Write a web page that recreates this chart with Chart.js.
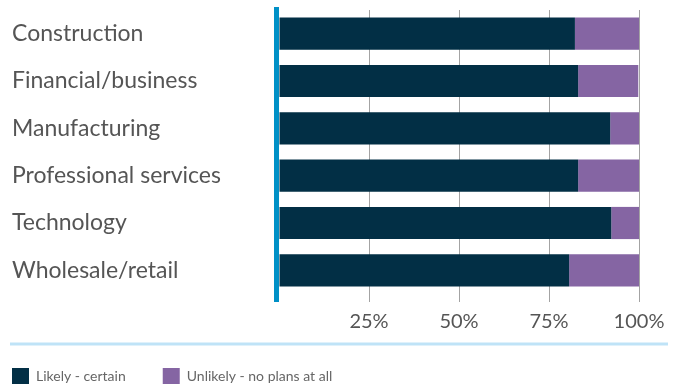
<!DOCTYPE html>
<html>
<head>
<meta charset="utf-8">
<script src="https://cdn.jsdelivr.net/npm/chart.js@4/dist/chart.umd.min.js"></script>
<style>
  html, body { margin: 0; padding: 0; background: #fff; }
  #wrap { width: 683px; height: 387px; }
</style>
</head>
<body>
<div id="wrap"><canvas id="myChart"></canvas></div>
<script>
let sectors = ["Construction", "Financial/business", "Manufacturing", "Professional services", "Technology", "Wholesale/retail"]
let likely = [82.2, 83.1, 92.0, 83.1, 92.3, 80.6]
let unlikely = [17.8, 16.7, 8.0, 16.9, 7.7, 19.4]
let xTicks = [25, 50, 75, 100]

let legendGap = 37

// thick blue axis on the left and the light blue rule above the legend
let decorations = {
    id: "decorations",
    afterLayout: (chart) => {
        // pull the legend row back to the left margin
        chart.legend.left = 12 - legendGap
    },
    beforeDatasetsDraw: (chart) => {
        let ctx = chart.ctx
        let area = chart.chartArea
        ctx.save()
        ctx.fillStyle = "#0090c6"
        ctx.fillRect(area.left - 5, area.top - 3, 5, area.bottom - area.top + 11)
        ctx.restore()
    },
    afterDraw: (chart) => {
        let ctx = chart.ctx
        ctx.save()
        ctx.strokeStyle = "#bfe3f7"
        ctx.lineWidth = 3
        ctx.beginPath()
        ctx.moveTo(10, 344)
        ctx.lineTo(668, 344)
        ctx.stroke()
        ctx.restore()
    },
}

let ctx = document.getElementById("myChart").getContext("2d")

let config = {
    type: "bar",
    data: {
        labels: sectors,
        datasets: [{
            label: "Likely - certain",
            data: likely,
            backgroundColor: "#022f45",
            barPercentage: 0.68,
            categoryPercentage: 1,
        },
        {
            label: "Unlikely - no plans at all",
            data: unlikely,
            backgroundColor: "#8565a3",
            barPercentage: 0.68,
            categoryPercentage: 1,
        },
        ],
    },
    options: {
        indexAxis: "y",
        responsive: true,
        maintainAspectRatio: false,
        animation: false,
        layout: {
            padding: { left: 12, right: 44, top: 10, bottom: -7 },
        },
        plugins: {
            tooltip: { enabled: false },
            legend: {
                position: "bottom",
                align: "start",
                labels: {
                    boxWidth: 17,
                    boxHeight: 16,
                    padding: legendGap,
                    color: "#666",
                    font: { family: "Lato", size: 14 },
                },
            },
        },
        scales: {
            x: {
                stacked: true,
                min: 0,
                max: 100,
                afterFit: (scale) => { scale.height = 37 },
                afterBuildTicks: (scale) => {
                    scale.ticks = [0].concat(xTicks).map(v => ({ value: v }))
                },
                grid: {
                    color: (c) => c.tick && c.tick.value === 0 ? "rgba(0,0,0,0)" : "#a3a3a3",
                    lineWidth: 1,
                    tickLength: 8,
                },
                border: { display: false },
                ticks: {
                    padding: 8,
                    color: "#555",
                    font: { family: "Lato", size: 20 },
                    callback: function (value) {
                        return value === 0 ? "" : value + "%"
                    },
                },
            },
            y: {
                stacked: true,
                afterFit: (scale) => {
                    scale.width = 267
                    scale.paddingTop = 0
                    scale.paddingBottom = 0
                },
                grid: { display: false },
                border: { display: false },
                ticks: {
                    crossAlign: "far",
                    color: "#555",
                    font: { family: "Lato", size: 23 },
                },
            },
        },
    },
    plugins: [decorations],
}

let myChart = new Chart(ctx, config)
</script>
</body>
</html>
